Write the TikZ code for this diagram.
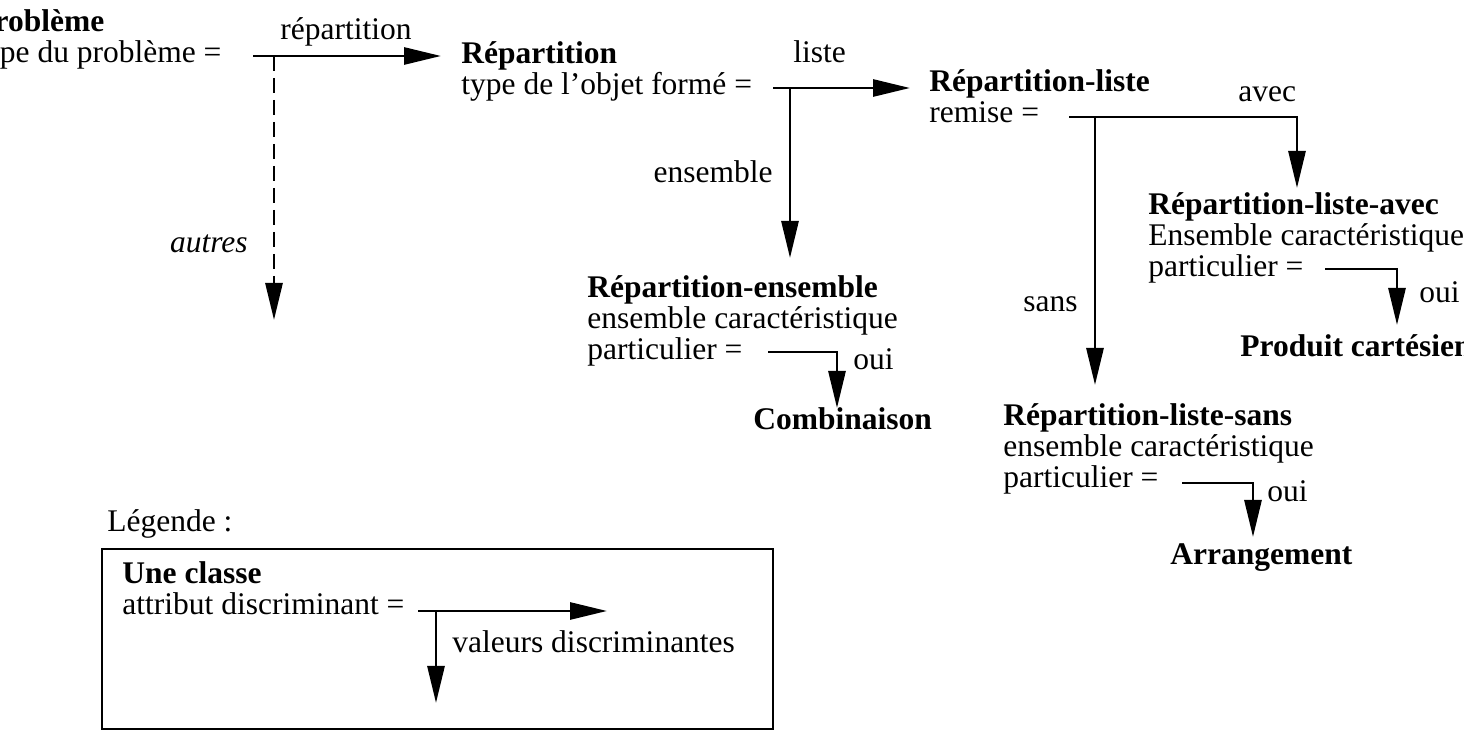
\documentclass[tikz,border=0pt]{standalone}
\usepackage{fontspec}
\setmainfont{Liberation Serif}
\usetikzlibrary{arrows.meta,positioning,calc}
\tikzset{
  cls/.style={anchor=base west, align=left, inner sep=0pt,
    font=\fontsize{15.75}{15.5}\selectfont},
  lbl/.style={anchor=base west, inner sep=0pt,
    font=\fontsize{15.75}{15.5}\selectfont},
  seg/.style={line width=1.4pt},
  arr/.style={seg, -{Triangle[length=18.5pt,width=8.5pt]}},
}

\begin{document}
\begin{tikzpicture}[x=0.5pt,y=-0.5pt]
\useasboundingbox (0,0) rectangle (1464,731);
\clip (0,0) rectangle (1464,731);

% classes (placed at the baseline of their last line)
\node[cls] (pb) at (-25,63) {\textbf{Problème}\\type du problème =};
\node[cls] (rep) at (461,95) {\textbf{Répartition}\\type de l'objet formé =};
\node[cls] (repE) at (587,360) {\textbf{Répartition-ensemble}\\ensemble caractéristique\\particulier =};
\node[cls] (comb) at (753,430) {\textbf{Combinaison}};
\node[cls] (repL) at (929,123) {\textbf{Répartition-liste}\\remise =};
\node[cls] (repLA) at (1148,277) {\textbf{Répartition-liste-avec}\\Ensemble caractéristique\\particulier =};
\node[cls] (prod) at (1240,357) {\textbf{Produit cartésien}};
\node[cls] (repLS) at (1003,488) {\textbf{Répartition-liste-sans}\\ensemble caractéristique\\particulier =};
\node[cls] (arrg) at (1170,565) {\textbf{Arrangement}};

% junctions
\coordinate (p0) at (253,56);
\coordinate (p1) at (274,56);
\coordinate (pR) at (441,56);
\coordinate (pD) at (274,320);
\coordinate (r0) at (773,88);
\coordinate (r1) at (790,88);
\coordinate (rR) at (910,88);
\coordinate (rD) at (790,258);
\coordinate (e0) at (768,352);
\coordinate (eD) at (837,408);
\coordinate (l0) at (1069,117);
\coordinate (l1) at (1095,117);
\coordinate (lA) at (1297,188);
\coordinate (lS) at (1095,385);
\coordinate (a0) at (1325,269);
\coordinate (aD) at (1397,325);
\coordinate (s0) at (1182,483);
\coordinate (sD) at (1253,537);

\draw[arr] (p0) -- (pR);
\draw[arr, dash pattern=on 7.5pt off 3.5pt] (p1) -- (pD);
\draw[arr] (r0) -- (rR);
\draw[arr] (r1) -- (rD);
\draw[arr] (e0) -| (eD);
\draw[arr] (l0) -| (lA);
\draw[arr] (l1) -- (lS);
\draw[arr] (a0) -| (aD);
\draw[arr] (s0) -| (sD);

% values
\node[lbl] (vRep) at (280,40) {répartition};
\node[lbl, anchor=base east, font=\fontsize{15.75}{15.5}\selectfont\itshape] (vAut) at (248,253) {autres};
\node[lbl] (vList) at (793,63) {liste};
\node[lbl, anchor=base east] (vEns) at (773,183) {ensemble};
\node[lbl] (vOuiE) at (853,370) {oui};
\node[lbl] (vAvec) at (1238,102) {avec};
\node[lbl, anchor=base east] (vSans) at (1078,312) {sans};
\node[lbl] (vOuiA) at (1419,303) {oui};
\node[lbl] (vOuiS) at (1267,502) {oui};

% legende
\node[lbl] (leg) at (107,532) {Légende :};
\draw[line width=1pt] (102,549) rectangle (773,729);
\node[cls] (cl) at (122,615) {\textbf{Une classe}\\attribut discriminant =};
\coordinate (c0) at (418,611);
\coordinate (c1) at (436,611);
\coordinate (cR) at (607,611);
\coordinate (cD) at (436,703);
\draw[arr] (c0) -- (cR);
\draw[arr] (c1) -- (cD);
\node[lbl] (vVal) at (452,653) {valeurs discriminantes};
\end{tikzpicture}
\end{document}
